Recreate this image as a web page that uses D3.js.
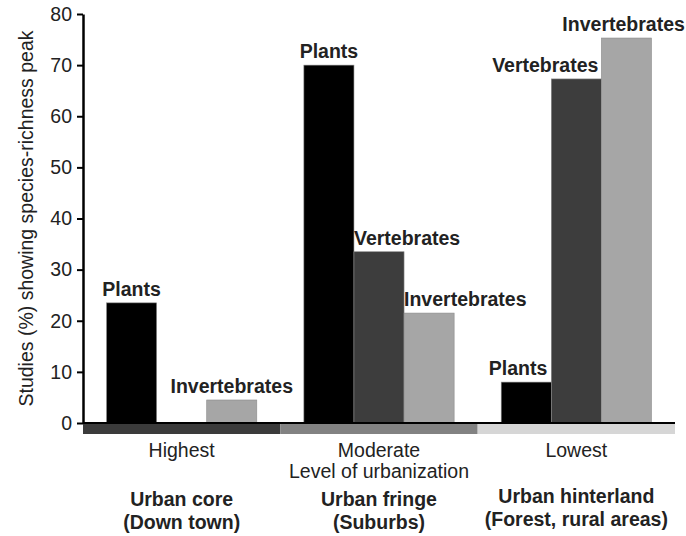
<!DOCTYPE html>
<html>
<head>
<meta charset="utf-8">
<script src="https://cdn.jsdelivr.net/npm/d3@7"></script>
<style>
  body { margin: 0; background: #fff; }
  svg { font-family: "Liberation Sans", Arial, Helvetica, sans-serif; }
</style>
</head>
<body>
<div id="chart"></div>
<script>
// values
const groups = ['Highest', 'Moderate', 'Lowest'];
const zones = [['Urban core', '(Down town)'], ['Urban fringe', '(Suburbs)'], ['Urban hinterland', '(Forest, rural areas)']];
const series = ['Plants', 'Vertebrates', 'Invertebrates'];
const plants = [23.5, 70, 8];
const vertebrates = [0, 33.5, 67.3];
const invertebrates = [4.5, 21.5, 75.3];
const yTicks = [0, 10, 20, 30, 40, 50, 60, 70, 80];

const width = 686;
const height = 536;
const margin = { top: 14, right: 11, bottom: 113, left: 83 };
const fs = '19.5px';

const colors = { Plants: '#000000', Vertebrates: '#3d3d3d', Invertebrates: '#a6a6a6' };
const zoneColors = ['#3b3b3b', '#828282', '#d6d6d6'];

const rows = [];
groups.forEach((g, i) => {
    rows.push({ group: g, key: 'Plants', value: plants[i] });
    rows.push({ group: g, key: 'Vertebrates', value: vertebrates[i] });
    rows.push({ group: g, key: 'Invertebrates', value: invertebrates[i] });
});

const svg = d3.select('#chart')
    .append('svg')
    .attr('width', width)
    .attr('height', height);

const x0 = d3.scaleBand()
    .domain(groups)
    .range([margin.left, width - margin.right]);

const x1 = d3.scaleBand()
    .domain(series)
    .range([0, x0.bandwidth()])
    .paddingOuter(0.47);

const y = d3.scaleLinear()
    .domain([0, 80])
    .range([height - margin.bottom, margin.top]);

// shaded urbanization strip under the baseline
svg.append('g')
    .selectAll('rect')
    .data(groups)
    .join('rect')
    .attr('x', d => x0(d))
    .attr('y', y(0))
    .attr('width', x0.bandwidth())
    .attr('height', 11)
    .attr('fill', (d, i) => zoneColors[i]);

// bars
svg.append('g')
    .selectAll('rect')
    .data(rows.filter(d => d.value > 0))
    .join('rect')
    .attr('x', d => x0(d.group) + x1(d.key))
    .attr('y', d => y(d.value))
    .attr('width', x1.bandwidth())
    .attr('height', d => y(0) - y(d.value))
    .attr('fill', d => colors[d.key])
    .attr('stroke', '#8a8a8a')
    .attr('stroke-width', 0.6);

// bar labels, a few shifted like in the figure
function labelPos(d) {
    const left = x0(d.group) + x1(d.key);
    const right = left + x1.bandwidth();
    if (d.group === 'Moderate' && d.key !== 'Plants') return [left, 'start'];
    if (d.group === 'Lowest' && d.key === 'Vertebrates') return [right - 3, 'end'];
    if (d.group === 'Lowest' && d.key === 'Plants') return [right - 4, 'end'];
    return [left + x1.bandwidth() / 2, 'middle'];
}

const barLabels = svg.append('g')
    .selectAll('text')
    .data(rows.filter(d => d.value > 0))
    .join('text')
    .attr('x', d => labelPos(d)[0])
    .attr('y', d => y(d.value) - 7)
    .attr('text-anchor', d => labelPos(d)[1])
    .attr('font-size', fs)
    .attr('font-weight', 'bold')
    .attr('fill', '#222')
    .text(d => d.key);

// keep labels inside the picture
barLabels.each(function () {
    const b = this.getBBox();
    const over = b.x + b.width - (width - 1);
    if (over > 0) d3.select(this).attr('x', +this.getAttribute('x') - over);
});

// baseline
svg.append('line')
    .attr('x1', margin.left)
    .attr('x2', width - margin.right)
    .attr('y1', y(0))
    .attr('y2', y(0))
    .attr('stroke', '#000')
    .attr('stroke-width', 2);

// y axis
const yAxis = svg.append('g')
    .attr('transform', `translate(${margin.left},0)`)
    .call(d3.axisLeft(y).tickValues(yTicks).tickSize(6).tickPadding(5).tickSizeOuter(0));
yAxis.select('.domain').attr('stroke-width', 2.5);
yAxis.selectAll('.tick line').attr('stroke-width', 2);
yAxis.selectAll('.tick text')
    .attr('font-size', fs)
    .attr('font-family', '"Liberation Sans", Arial, sans-serif')
    .attr('fill', '#222');

svg.append('text')
    .attr('transform', `translate(33, ${(y(0) + y(80)) / 2}) rotate(-90)`)
    .attr('text-anchor', 'middle')
    .attr('font-size', fs)
    .attr('fill', '#222')
    .text('Studies (%) showing species-richness peak');

// category labels
svg.append('g')
    .selectAll('text')
    .data(groups)
    .join('text')
    .attr('x', d => x0(d) + x0.bandwidth() / 2)
    .attr('y', 457)
    .attr('text-anchor', 'middle')
    .attr('font-size', fs)
    .attr('fill', '#222')
    .text(d => d);

svg.append('text')
    .attr('x', x0('Moderate') + x0.bandwidth() / 2)
    .attr('y', 478)
    .attr('text-anchor', 'middle')
    .attr('font-size', fs)
    .attr('fill', '#222')
    .text('Level of urbanization');

const zoneText = svg.append('g')
    .selectAll('text')
    .data(zones)
    .join('text')
    .attr('x', (d, i) => x0(groups[i]) + x0.bandwidth() / 2)
    .attr('y', (d, i) => i === 2 ? 503 : 506)
    .attr('text-anchor', 'middle')
    .attr('font-size', fs)
    .attr('font-weight', 'bold')
    .attr('fill', '#222');

zoneText.append('tspan')
    .attr('x', (d, i) => x0(groups[i]) + x0.bandwidth() / 2)
    .text(d => d[0]);
zoneText.append('tspan')
    .attr('x', (d, i) => x0(groups[i]) + x0.bandwidth() / 2)
    .attr('dy', 23)
    .text(d => d[1]);
</script>
</body>
</html>
